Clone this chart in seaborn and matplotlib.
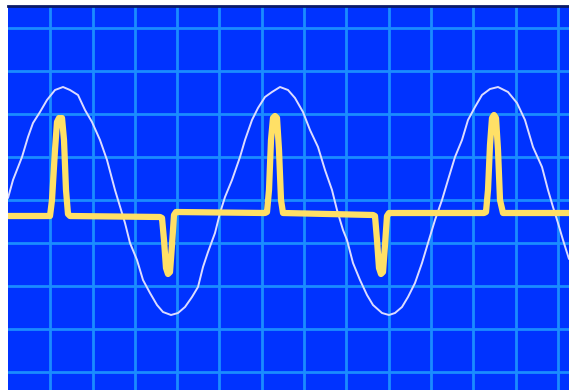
import numpy as np
import pandas as pd
import matplotlib
matplotlib.use("Agg")
import matplotlib.pyplot as plt
import seaborn as sns

# white reference wave (x, y in screen pixels)
wave_x = [8, 13, 22, 28, 33, 40, 47, 55, 63, 70, 78, 85, 92, 100, 107, 115, 125,
          130, 137, 143, 150, 157, 163, 171, 178, 185, 192, 198, 203, 208, 215, 220, 225, 232,
          240, 245, 252, 258, 265, 272, 280, 288, 295, 303, 310, 318, 325, 332, 337, 343,
          347, 353, 360, 367, 373, 382, 389, 395, 402, 408, 415, 422, 428, 435, 442, 448,
          455, 462, 468, 475, 482, 490, 498, 508, 517, 525, 533, 542, 548, 553, 558, 563, 569]
wave_y = [198, 180, 157, 137, 123, 112, 100, 90, 87, 90, 95, 110, 122, 140, 160, 190, 223,
          243, 260, 280, 293, 305, 312, 315, 313, 307, 297, 287, 267, 252, 233, 213, 197, 180,
          157, 140, 120, 108, 97, 92, 87, 90, 98, 112, 130, 147, 170, 190, 210, 230,
          240, 263, 280, 295, 305, 313, 315, 313, 307, 297, 283, 263, 243, 220, 200, 180,
          157, 140, 120, 107, 95, 89, 87, 92, 103, 120, 147, 167, 190, 207, 223, 240, 259]

# yellow pulse trace
pulse_x = [8, 50, 52, 55, 57, 59, 61, 62, 64, 66, 68, 70,
           160, 162, 164, 166, 168, 170, 172, 174, 176,
           265, 267, 269, 271, 273, 275, 277, 279, 281, 283,
           373, 375, 377, 379, 381, 383, 385, 387, 389, 391,
           484, 486, 488, 490, 492, 494, 496, 498, 500, 503, 569]
pulse_y = [216, 216, 200, 150, 122, 118, 120, 118, 140, 190, 214, 216,
           217, 218, 240, 268, 274, 272, 245, 215, 212,
           213, 212, 190, 140, 118, 116, 118, 150, 200, 213,
           215, 216, 240, 268, 274, 272, 245, 216, 213, 213,
           213, 212, 190, 145, 118, 115, 118, 150, 200, 213, 213]

sns.set_style("dark")
fig = plt.figure(figsize=(5.69, 3.90), dpi=100)
ax = fig.add_axes([8 / 569, 0, 561 / 569, 384 / 390])
ax.set_facecolor("#0033ff")

sns.lineplot(x=wave_x, y=wave_y, sort=False, color="#dcdcff", linewidth=1.4, ax=ax)
sns.lineplot(x=pulse_x, y=pulse_y, sort=False, color="#ffe066", linewidth=4.5, ax=ax)

ax.set_xlim(8, 569)
ax.set_ylim(390, 6)
ax.set_xticks(np.arange(50.3, 569, 42.3))
ax.set_yticks(np.arange(28.3, 390, 43))
ax.grid(True, color="#1a8cff", linewidth=2)
ax.set_axisbelow(True)
ax.tick_params(length=0, labelbottom=False, labelleft=False)
ax.set_xlabel("")
ax.set_ylabel("")
for side in ["left", "right", "bottom"]:
    ax.spines[side].set_visible(False)
ax.spines["top"].set_visible(True)
ax.spines["top"].set_color("#0a1a66")
ax.spines["top"].set_linewidth(2)

fig.savefig("out.png", dpi=100, facecolor="white")
